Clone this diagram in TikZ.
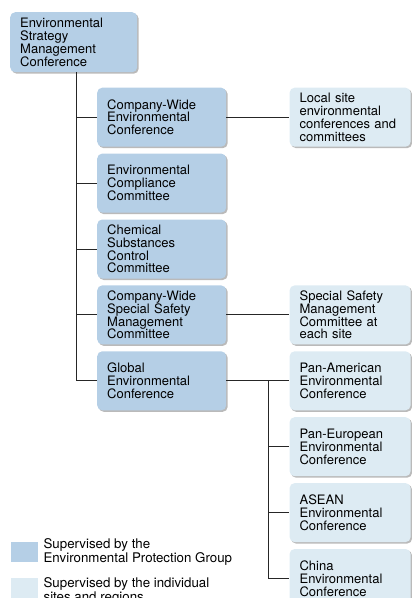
\documentclass[tikz,border=0pt]{standalone}
\usepackage{fontspec}
\setmainfont{TeX Gyre Heros}
\usetikzlibrary{positioning,shadows}

\definecolor{grpblue}{RGB}{181,207,230}
\definecolor{siteblue}{RGB}{221,235,243}

\tikzset{
  box/.style={rectangle, rounded corners=5pt, minimum height=59pt,
    inner xsep=10pt, inner ysep=2pt, align=left, text width=#1,
    font=\fontsize{13}{12.8}\selectfont,
    drop shadow={shadow xshift=1.5pt, shadow yshift=-1.5pt, fill=black!45, opacity=.6}},
  grp/.style={box=#1, fill=grpblue},
  grp/.default=109pt,
  site/.style={box=101pt, fill=siteblue},
  link/.style={line width=0.9pt, black!85},
  key/.style={rectangle, inner sep=0pt, minimum width=27pt, minimum height=20pt, anchor=north west},
  keytext/.style={inner sep=0pt, align=left, font=\fontsize{13.3}{12.3}\selectfont}
}

\begin{document}
\begin{tikzpicture}[x=1pt, y=-1pt]
    \useasboundingbox (0,0) rectangle (412,598);

    % group level
    \node[grp=107pt, anchor=north west, minimum height=60pt] (esm) at (10,12) {Environmental\\Strategy\\Management\\Conference};

    \node[grp, anchor=north west] (cwe) at (97,87.5) {Company-Wide\\Environmental\\Conference};
    \node[grp, below=6.5pt of cwe] (ecc) {Environmental\\Compliance\\Committee};
    \node[grp, below=6.5pt of ecc] (csc) {Chemical\\Substances\\Control\\Committee};
    \node[grp, below=6.5pt of csc] (ssm) {Company-Wide\\Special Safety\\Management\\Committee};
    \node[grp, below=6.5pt of ssm] (gec) {Global\\Environmental\\Conference};

    % sites and regions
    \node[site, right=63pt of cwe] (loc) {Local site\\environmental\\conferences and\\committees};
    \node[site, right=63pt of ssm] (sse) {Special Safety\\Management\\Committee at\\each site};
    \node[site, right=63pt of gec] (pam) {Pan-American\\Environmental\\Conference};
    \node[site, below=6.5pt of pam] (peu) {Pan-European\\Environmental\\Conference};
    \node[site, below=6.5pt of peu] (asn) {ASEAN\\Environmental\\Conference};
    \node[site, below=6.5pt of asn] (chn) {China\\Environmental\\Conference};

    % connectors
    \coordinate (t1) at ([xshift=66pt]esm.south west);
    \draw[link] (t1) |- (gec.west);
    \foreach \n in {cwe,ecc,csc,ssm}
      \draw[link] (t1 |- \n.west) -- (\n.west);

    \draw[link] (cwe.east) -- (loc.west);
    \draw[link] (ssm.east) -- (sse.west);
    \draw[link] (gec.east) -- (pam.west);

    \coordinate (t2) at ([xshift=-21pt]pam.west);
    \draw[link] (t2) |- (chn.west);
    \foreach \n in {peu,asn}
      \draw[link] (t2 |- \n.west) -- (\n.west);

    % legend
    \node[key, fill=grpblue] (kgrp) at (11,542) {};
    \node[keytext, right=5pt of kgrp] (kgrptxt) {Supervised by the\\Environmental Protection Group};
    \node[key, fill=siteblue] (ksite) at (11,578) {};
    \node[keytext, right=5pt of ksite, yshift=-2.5pt] (ksitetxt) {Supervised by the individual\\sites and regions};
\end{tikzpicture}
\end{document}
